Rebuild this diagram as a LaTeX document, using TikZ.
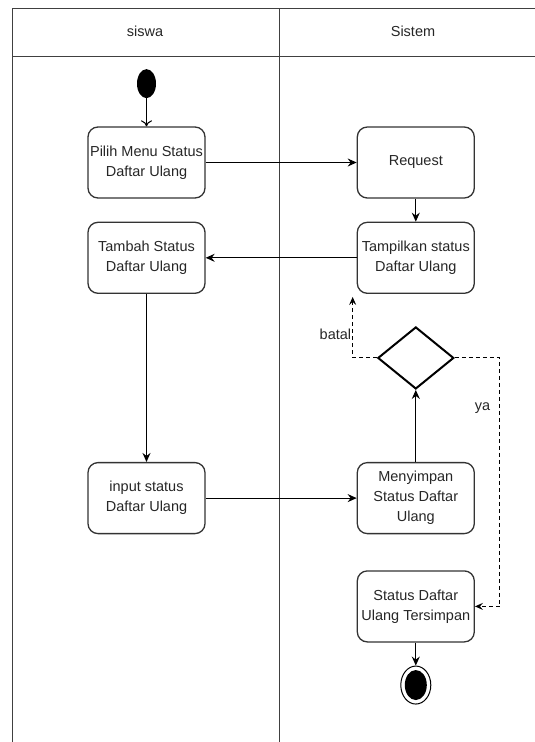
\documentclass[tikz,border=0pt]{standalone}
\usepackage{fontspec}
\setmainfont{Liberation Sans}
\usetikzlibrary{shapes,arrows.meta,positioning,calc}

\begin{document}
\begin{tikzpicture}[
        x=1pt, y=-1pt,
        node distance=23pt,
        every node/.style={font=\fontsize{14.5}{20}\selectfont, text=black!85},
        lane/.style={draw=black!75, line width=1pt},
        action/.style={rectangle, rounded corners=10pt, draw=black!80, line width=1.3pt, minimum width=117pt, minimum height=71pt, align=center, inner sep=1pt},
        decision/.style={diamond, draw=black, line width=2pt, minimum width=76pt, minimum height=62pt, inner sep=0pt},
        start/.style={ellipse, fill=black, minimum width=19pt, minimum height=29pt, inner sep=0pt},
        finish/.style={ellipse, draw=black, line width=1pt, minimum width=30pt, minimum height=38pt, inner sep=0pt},
        arrow/.style={-{Stealth[length=9pt, width=8pt, inset=3pt]}, line width=1pt},
        openarrow/.style={-{To[length=6pt, width=11pt]}, line width=1pt},
        alt/.style={-{Stealth[length=8pt, width=7pt, inset=3pt]}, line width=1pt, dash pattern=on 4pt off 3pt}
    ]
    \useasboundingbox (0,0) rectangle (535,742);

    % Swimlanes
    \draw[lane] (12,8) -- (535,8);
    \draw[lane] (12,56) -- (535,56);
    \draw[lane] (12,8) -- (12,742);
    \draw[lane] (279,8) -- (279,742);
    \node (siswa) at (145,31) {siswa};
    \node (sistem) at (413,31) {Sistem};

    % Actions
    \node[action] (pilih) at (146.5,162.5) {Pilih Menu Status\\Daftar Ulang};
    \node[start, above=28pt of pilih] (start) {};
    \node[action, right=151pt of pilih] (request) {Request};
    \node[action, below=of request] (tampil) {Tampilkan status\\Daftar Ulang};
    \node[action, below=of pilih] (tambah) {Tambah Status\\Daftar Ulang};
    \node[action, below=168pt of tambah] (input) {input status\\Daftar Ulang};
    \node[action, right=151pt of input] (simpan) {Menyimpan\\Status Daftar\\Ulang};
    \node[decision, above=72pt of simpan] (cek) {};
    \node[action, below=36pt of simpan] (tersimpan) {Status Daftar\\Ulang Tersimpan};

    % End
    \node[finish, below=23pt of tersimpan] (end) {};
    \node[ellipse, fill=black, minimum width=22pt, minimum height=30pt, inner sep=0pt] (endin) at (end.center) {};

    % Helper points
    \coordinate (batalend) at ($(tampil.south west)+(-4pt,-3pt)$);
    \coordinate (yaturn) at ($(tersimpan.east)+(25pt,0pt)$);

    % Arrows
    \draw[openarrow] (start) -- (pilih);
    \draw[arrow] (pilih) -- (request);
    \draw[arrow] (request) -- (tampil);
    \draw[arrow] (tampil) -- (tambah);
    \draw[arrow] (tambah) -- (input);
    \draw[arrow] (input) -- (simpan);
    \draw[arrow] (simpan) -- (cek);
    \draw[alt] (cek.west) -| node[pos=0.69, left, inner sep=1pt] {batal} (batalend);
    \draw[alt] (cek.east) -| node[pos=0.6, left=6pt] {ya} (yaturn) -- (tersimpan.east);
    \draw[arrow] (tersimpan) -- (end);

\end{tikzpicture}
\end{document}
